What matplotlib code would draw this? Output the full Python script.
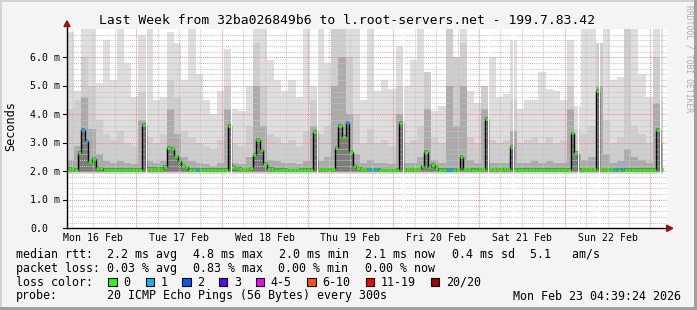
import numpy as np
import matplotlib.pyplot as plt
from matplotlib.patches import Rectangle, Polygon

# ---- data ----
# median rtt in ms, one value per hour, first hour starts Mon 16 Feb 04:39:24
median_ms = [
    2.08, 2.08, 2.06, 2.65, 3.46, 3.07, 2.33, 2.44, 2.13, 2.10, 2.05, 2.04,
    2.04, 2.05, 2.04, 2.04, 2.05, 2.04, 2.04, 2.05, 2.04, 3.63, 2.08, 2.08,
    2.08, 2.08, 2.08, 2.16, 2.83, 2.80, 2.55, 2.37, 2.20, 2.14, 2.05, 2.04,
    2.04, 2.05, 2.05, 2.04, 2.05, 2.05, 2.04, 2.05, 2.06, 3.60, 2.16, 2.13,
    2.08, 2.07, 2.07, 2.10, 2.58, 3.10, 2.75, 2.27, 2.08, 2.08, 2.04, 2.04,
    2.04, 2.04, 2.03, 2.03, 2.03, 2.04, 2.04, 2.05, 2.06, 3.38, 2.07, 2.07,
    2.07, 2.07, 2.07, 2.83, 3.59, 3.20, 3.70, 2.68, 2.19, 2.13, 2.08, 2.07,
    2.07, 2.07, 2.07, 2.05, 2.03, 2.03, 2.03, 2.03, 2.05, 3.70, 2.07, 2.07,
    2.07, 2.07, 2.07, 2.17, 2.68, 2.15, 2.23, 2.13, 2.06, 2.06, 2.06, 2.06,
    2.06, 2.07, 2.50, 2.07, 2.07, 2.05, 2.05, 2.07, 2.07, 3.85, 2.07, 2.07,
    2.07, 2.07, 2.07, 2.07, 2.86, 2.05, 2.05, 2.05, 2.05, 2.05, 2.05, 2.05,
    2.06, 2.06, 2.05, 2.04, 2.04, 2.04, 2.04, 2.04, 2.04, 3.35, 2.65, 2.04,
    2.07, 2.07, 2.07, 2.07, 4.83, 2.07, 2.07, 2.07, 2.07, 2.07, 2.04, 2.07,
    2.04, 2.04, 2.04, 2.04, 2.04, 2.04, 2.04, 2.04, 2.04, 3.45, 2.07, np.nan,
]
# hours where 1 of 20 pings was lost (blue)
loss_one_hours = [4, 5, 36, 78, 84, 86, 106, 107, 153, 155]
# short holes in the data (hour where they start)
gap_hours = [22.0, 46.0, 70.0, 94.0, 118.0, 125.0, 143.0, 149.0, 166.0]
data_end = 166.8

# smoke, one value per 2 hours (ms): top of light, medium and dark band
smoke_top = [
    6.9, 4.8, 7.0, 7.0, 5.1, 6.6, 5.2, 7.0, 5.8, 4.6, 6.8, 7.0,
    4.5, 4.6, 6.9, 6.5, 5.2, 7.0, 5.4, 4.5, 4.0, 4.8, 6.3, 4.2,
    4.1, 5.0, 7.0, 7.0, 5.9, 5.2, 4.8, 5.2, 4.6, 7.0, 5.0, 7.0,
    5.8, 7.0, 7.0, 7.0, 7.0, 4.5, 7.0, 4.8, 5.2, 4.9, 6.4, 5.0,
    5.9, 7.0, 4.1, 4.1, 4.3, 7.0, 5.5, 7.0, 4.8, 4.4, 4.6, 6.0,
    4.6, 4.7, 6.6, 4.2, 4.5, 4.5, 5.5, 4.9, 4.8, 4.5, 6.6, 4.3,
    7.0, 7.0, 5.9, 7.0, 5.2, 5.3, 4.4, 7.0, 5.4, 4.6, 7.0, 7.0,
]
smoke_mid = [
    4.2, 4.5, 6.0, 5.0, 3.8, 3.3, 3.1, 3.4, 3.0, 2.9, 4.8, 3.2,
    3.0, 3.3, 5.2, 4.6, 3.4, 3.2, 3.0, 2.9, 2.8, 3.1, 5.0, 3.0,
    2.9, 3.6, 6.5, 5.0, 3.3, 3.2, 3.0, 3.1, 2.9, 3.4, 4.5, 3.3,
    3.6, 7.0, 7.0, 6.0, 4.0, 3.0, 3.5, 3.0, 3.1, 2.9, 5.0, 3.0,
    3.1, 3.6, 5.5, 3.2, 3.0, 7.0, 6.0, 6.5, 3.2, 3.0, 5.0, 3.1,
    3.0, 3.1, 4.5, 3.0, 3.1, 3.2, 3.0, 3.2, 3.0, 3.1, 5.0, 3.5,
    3.3, 3.6, 6.5, 3.8, 3.0, 3.2, 7.0, 3.6, 3.3, 3.0, 6.0, 4.5,
]
smoke_dark = [
    2.4, 2.9, 4.6, 3.5, 2.6, 2.35, 2.3, 2.35, 2.3, 2.25, 3.8, 2.35,
    2.3, 2.35, 4.2, 3.3, 2.5, 2.35, 2.3, 2.25, 2.2, 2.3, 4.2, 2.3,
    2.25, 2.5, 5.0, 3.6, 2.4, 2.35, 2.3, 2.3, 2.25, 2.35, 3.6, 2.35,
    2.5, 5.0, 6.0, 4.0, 2.6, 2.3, 2.4, 2.3, 2.3, 2.25, 4.0, 2.3,
    2.3, 2.5, 4.2, 2.4, 2.3, 5.0, 3.6, 5.0, 2.4, 2.3, 4.2, 2.3,
    2.3, 2.3, 3.4, 2.3, 2.3, 2.35, 2.3, 2.35, 2.3, 2.3, 4.2, 2.6,
    2.4, 2.5, 5.0, 2.6, 2.3, 2.35, 2.8, 2.5, 2.4, 2.3, 4.4, 3.0,
]

start_clock = 4 + 39 / 60 + 24 / 3600   # hours after Mon 16 Feb 00:00
day_labels = ['Mon 16 Feb', 'Tue 17 Feb', 'Wed 18 Feb', 'Thu 19 Feb',
              'Fri 20 Feb', 'Sat 21 Feb', 'Sun 22 Feb']
y_labels = ['0.0', '1.0 m', '2.0 m', '3.0 m', '4.0 m', '5.0 m', '6.0 m']

title = 'Last Week from 32ba026849b6 to l.root-servers.net - 199.7.83.42'
rtt_row = [('median rtt:', 16), ('2.2 ms avg', 107.3), ('4.8 ms max', 193.3),
           ('2.0 ms min', 279.3), ('2.1 ms now', 365), ('0.4 ms sd', 451.7),
           ('5.1   am/s', 530)]
loss_row = [('packet loss:', 16), ('0.03 % avg', 107.3), ('0.83 % max', 193.3),
            ('0.00 % min', 278.3), ('0.00 % now', 365)]
probe_row = [('probe:', 16), ('20 ICMP Echo Pings (56 Bytes) every 300s', 107.3),
             ('Mon Feb 23 04:39:24 2026', 513.3)]
loss_names = ['0', '1', '2', '3', '4-5', '6-10', '11-19', '20/20']
loss_colors = ['#26ff00', '#00b8ff', '#0059ff', '#5e00ff',
               '#ff00ff', '#ff5500', '#ff0000', '#a10000']
loss_box_x = [108.3, 145.7, 182.3, 219.0, 255.7, 307.3, 365.7, 430.7]

# ---- figure ----
W, H = 697, 310
MONO = 'DejaVu Sans Mono'
fig = plt.figure(figsize=(W / 100, H / 100), dpi=100, facecolor='#f4f4f4')

AX_L, AX_R, AX_T, AX_B = 67.0, 667.0, 28.8, 228.3
YMAX = 7.0
ax = fig.add_axes([AX_L / W, 1 - AX_B / H, (AX_R - AX_L) / W, (AX_B - AX_T) / H])
ax.set_xlim(0, 168)
ax.set_ylim(0, YMAX)
ax.set_facecolor('white')
for s in ax.spines.values():
    s.set_visible(False)
ax.set_xticks([])
ax.set_yticks([])


def fx(x):
    return x / W


def fy(y):
    return 1 - y / H


def ypix(v):
    return AX_B - v * (AX_B - AX_T) / YMAX


def xpix(h):
    return AX_L + h * (AX_R - AX_L) / 168


# smoke
med = np.array(median_ms)
edges2 = np.arange(0, 169, 2)
left = edges2[:-1]
width = np.minimum(edges2[1:], data_end) - left
ax.bar(left, np.array(smoke_top) - 1.92, width, bottom=1.92, align='edge',
       color='#dedede', lw=0, zorder=1)
ax.bar(left, np.array(smoke_mid) - 1.95, width, bottom=1.95, align='edge',
       color='#cecece', lw=0, zorder=1.1)
ax.bar(left, np.array(smoke_dark) - 1.98, width, bottom=1.98, align='edge',
       color='#ababab', lw=0, zorder=1.2)
hrs = np.arange(168)
ok = ~np.isnan(med)
ax.bar(hrs[ok], med[ok] + 0.06 - 1.99, 1, bottom=1.99, align='edge',
       color='#7c7c7c', lw=0, zorder=1.3)

# grid (drawn over the smoke like rrdtool)
dots = (0, (1, 1))
for k in range(1, 35):
    if k % 5:
        ax.axhline(k / 5, color='#c4c4c4', lw=0.75, ls=dots, zorder=2.5)
for k in range(1, 7):
    ax.axhline(k, color='#f08a8a', lw=0.75, ls=dots, zorder=2.6)
for j in range(1, 29):
    t = 6 * j - start_clock
    if 0 < t < 168:
        if j % 4:
            ax.axvline(t, color='#c4c4c4', lw=0.75, ls=dots, zorder=2.5)
        else:
            ax.axvline(t, color='#f08a8a', lw=0.75, ls=dots, zorder=2.6)

# median line: black steps + loss-coloured segments
n_ok = int(ok.sum())
ax.stairs(med[:n_ok], np.arange(n_ok + 1), color='black', lw=1.0,
          baseline=None, zorder=3)
seg_cols = ['#00b8ff' if h in loss_one_hours else '#26ff00' for h in hrs[ok]]
ax.hlines(med[ok], hrs[ok], hrs[ok] + 1, colors=seg_cols, lw=1.9, zorder=3.5)

for g in gap_hours:
    ax.add_patch(Rectangle((g, 0.05), 0.3, YMAX, color='white', lw=0, zorder=4))

# axes lines and arrows
ax.plot([0, 0], [0, 7.12], color='black', lw=1, clip_on=False, zorder=6)
ax.plot([0, 168.3], [0, 0], color='black', lw=1, clip_on=False, zorder=6)
ax.add_patch(Polygon([[-0.85, 7.08], [0.85, 7.08], [0, 7.28]], closed=True,
                     color='#9c1010', clip_on=False, zorder=7))
ax.add_patch(Polygon([[167.9, -0.11], [167.9, 0.11], [169.6, 0]], closed=True,
                     color='#9c1010', clip_on=False, zorder=7))
for v in range(7):
    ax.plot([-1.15, 0], [v, v], color='black', lw=0.8, clip_on=False, zorder=6)

# tick labels
for v, lab in enumerate(y_labels):
    fig.text(fx(30), fy(ypix(v) + 3.3), lab, family=MONO, fontsize=7.1,
             ha='left', va='baseline')
for k, lab in enumerate(day_labels):
    fig.text(fx(xpix(12 - start_clock + 24 * k)), fy(240.7), lab, family=MONO,
             fontsize=7.1, ha='center', va='baseline')

fig.text(fx(347.3), fy(24), title, family=MONO, fontsize=9.4,
         ha='center', va='baseline')
fig.text(fx(10.5), fy(126), 'Seconds', family=MONO, fontsize=8.6,
         rotation=90, ha='center', va='center')
fig.text(fx(689.5), fy(59), 'RRDTOOL / TOBI OETIKER', family=MONO, fontsize=5.8,
         rotation=270, ha='center', va='center', color='#acacac')

# legend
for row, base in [(rtt_row, 257.7), (loss_row, 271.7), (probe_row, 299.5)]:
    for txt, x in row:
        fig.text(fx(x), fy(base), txt, family=MONO, fontsize=8.35,
                 ha='left', va='baseline')
fig.text(fx(16), fy(285.7), 'loss color:', family=MONO, fontsize=8.35,
         ha='left', va='baseline')
for name, col, bx in zip(loss_names, loss_colors, loss_box_x):
    fig.patches.append(Rectangle((fx(bx), fy(286.3)), 8.3 / W, 8.3 / H,
                                 transform=fig.transFigure, facecolor=col,
                                 edgecolor='black', lw=0.8))
    fig.text(fx(bx + 15), fy(285.7), name, family=MONO, fontsize=8.35,
             ha='left', va='baseline')

# canvas frame
fig.patches.append(Rectangle((0, 1 - 2 / H), 1, 2 / H, transform=fig.transFigure,
                             color='#d2d2d2', lw=0))
fig.patches.append(Rectangle((0, 0), 2 / W, 1, transform=fig.transFigure,
                             color='#d2d2d2', lw=0))
fig.patches.append(Rectangle((0, 0), 1, 3 / H, transform=fig.transFigure,
                             color='#9f9f9f', lw=0))
fig.patches.append(Rectangle((1 - 3 / W, 0), 3 / W, 1, transform=fig.transFigure,
                             color='#9f9f9f', lw=0))

fig.savefig('out.png', dpi=100, facecolor=fig.get_facecolor())
